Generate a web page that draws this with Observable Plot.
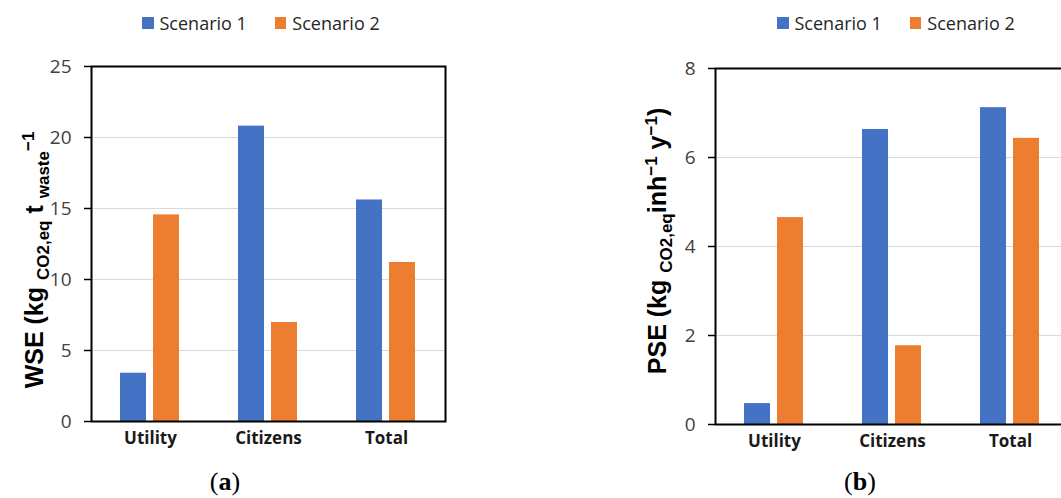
<!DOCTYPE html>
<html>
<head>
<meta charset="utf-8">
<script src="https://cdn.jsdelivr.net/npm/d3@7"></script>
<script src="https://cdn.jsdelivr.net/npm/@observablehq/plot@0.6"></script>
<style>
  html, body { margin: 0; padding: 0; background: #fff; overflow: hidden; }
  #wrap { position: relative; width: 1061px; height: 498px; overflow: hidden; font-family: "Open Sans", sans-serif; }
  .panel { position: absolute; top: 0; }
  .legend { position: absolute; top: 11px; display: flex; align-items: center; font-size: 18px; color: #262626; white-space: nowrap; }
  .legend .item { display: flex; align-items: center; }
  .legend .sw { width: 11.5px; height: 11.5px; margin-right: 6px; }
  .ytitle { position: absolute; transform: translate(-50%, -50%) rotate(-90deg); font-family: "Liberation Sans", Arial, sans-serif; font-weight: bold; font-size: 25px; color: #000; white-space: nowrap; line-height: 1; }
  .ytitle sub, .ytitle sup { font-size: 17px; }
  .caption { position: absolute; top: 468px; transform: translateX(-50%); font-family: "Liberation Serif", "DejaVu Serif", serif; font-size: 26px; color: #000; line-height: 1.1; }
</style>
</head>
<body>
<div id="wrap"></div>
<script>
// ---- data ----
const categories = ["Utility", "Citizens", "Total"];
const series = ["Scenario 1", "Scenario 2"];
const colors = ["#4472C4", "#ED7D31"];
// (a) WSE, kg CO2,eq per t waste
const wseScenario1 = [3.4, 20.8, 15.6];
const wseScenario2 = [14.55, 6.97, 11.2];
const wseTicks = [0, 5, 10, 15, 20, 25];
// (b) PSE, kg CO2,eq per inhabitant per year
const pseScenario1 = [0.47, 6.63, 7.12];
const pseScenario2 = [4.65, 1.77, 6.43];
const pseTicks = [0, 2, 4, 6, 8];

function makeChart(s1, s2, ticks, o) {
  const data = categories.flatMap((c, i) => [
    {category: c, series: series[0], value: s1[i]},
    {category: c, series: series[1], value: s2[i]}
  ]);
  return Plot.plot({
    width: o.width, height: o.height,
    marginLeft: o.marginLeft, marginRight: o.marginRight,
    marginTop: o.marginTop, marginBottom: o.marginBottom,
    style: {fontFamily: "'Open Sans', sans-serif", fontSize: "19px", background: "transparent", overflow: "visible"},
    fx: {domain: categories, padding: 0, label: null},
    x: {domain: series, paddingInner: 0.21, paddingOuter: 0.88, axis: null, label: null},
    y: {domain: [ticks[0], ticks[ticks.length - 1]], label: null},
    color: {domain: series, range: colors},
    marks: [
      Plot.gridY(ticks, {stroke: "#d9d9d9", strokeOpacity: 1, strokeWidth: 1}),
      Plot.barY(data, {fx: "category", x: "series", y: "value", fill: "series"}),
      Plot.axisY(ticks, {anchor: "left", tickSize: 7, tickPadding: 13, stroke: "#000", strokeWidth: 1.5, fill: "#404040", label: null, tickFormat: d => String(d)}),
      Plot.axisFx({anchor: "bottom", tickSize: 0, tickPadding: 10, fontWeight: "bold", fontSize: 17, fill: "#1a1a1a", label: null}),
      Plot.frame({facet: "super", stroke: "#000", strokeWidth: 2})
    ]
  });
}

function legend(left) {
  const div = document.createElement("div");
  div.className = "legend";
  div.style.left = left + "px";
  series.forEach((s, i) => {
    const item = document.createElement("span");
    item.className = "item";
    if (i > 0) item.style.marginLeft = "28px";
    const sw = document.createElement("span");
    sw.className = "sw";
    sw.style.background = colors[i];
    const t = document.createElement("span");
    t.textContent = s;
    item.appendChild(sw); item.appendChild(t);
    div.appendChild(item);
  });
  return div;
}

const wrap = document.getElementById("wrap");

const a = makeChart(wseScenario1, wseScenario2, wseTicks,
  {width: 480, height: 470, marginLeft: 90, marginRight: 34, marginTop: 66, marginBottom: 49});
a.classList.add("panel"); a.style.left = "0px";
wrap.appendChild(a);

const b = makeChart(pseScenario1, pseScenario2, pseTicks,
  {width: 470, height: 470, marginLeft: 94, marginRight: 20, marginTop: 68, marginBottom: 46});
b.classList.add("panel"); b.style.left = "620px";
wrap.appendChild(b);

wrap.appendChild(legend(142));
wrap.appendChild(legend(777));

const ta = document.createElement("div");
ta.className = "ytitle";
ta.style.left = "36px"; ta.style.top = "260px";
ta.innerHTML = "WSE (kg <sub>CO2,eq</sub> t <sub>waste</sub><sup>−1</sup>";
wrap.appendChild(ta);

const tb = document.createElement("div");
tb.className = "ytitle";
tb.style.left = "659px"; tb.style.top = "241px";
tb.innerHTML = "PSE (kg <sub>CO2,eq</sub>inh<sup>−1</sup> y<sup>−1</sup>)";
wrap.appendChild(tb);

const ca = document.createElement("div");
ca.className = "caption"; ca.style.left = "225px";
ca.innerHTML = "(<b>a</b>)";
wrap.appendChild(ca);

const cb = document.createElement("div");
cb.className = "caption"; cb.style.left = "860px";
cb.innerHTML = "(<b>b</b>)";
wrap.appendChild(cb);
</script>
</body>
</html>
